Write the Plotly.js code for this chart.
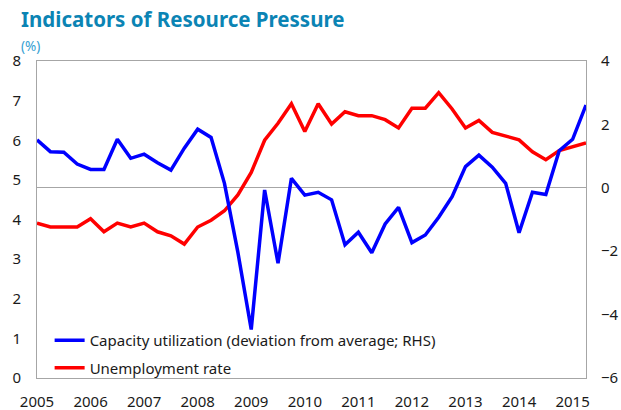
<!DOCTYPE html>
<html>
<head>
<meta charset="utf-8">
<script src="https://cdn.plot.ly/plotly-3.0.1.min.js"></script>
<style>html,body{margin:0;padding:0;background:#fff;}#chart{width:621px;height:410px;}</style>
</head>
<body>
<div id="chart"></div>
<script>
// Quarterly, 2005Q1 .. 2015Q2
const startYear = 2005;
const nQuarters = 42;
const tickYears = [2005, 2006, 2007, 2008, 2009, 2010, 2011, 2012, 2013, 2014, 2015];

// Capacity utilization (deviation from average; RHS)
const capacityUtil = [
  1.51, 1.14, 1.12, 0.75, 0.58, 0.58, 1.53, 0.93, 1.06, 0.79,
  0.56, 1.25, 1.85, 1.59, 0.14, -2.03, -4.47, -0.07, -2.38, 0.30,
  -0.23, -0.14, -0.38, -1.80, -1.40, -2.05, -1.14, -0.62, -1.73, -1.49,
  -0.93, -0.28, 0.67, 1.03, 0.65, 0.14, -1.42, -0.14, -0.21, 1.17,
  1.53, 2.61
];

// Unemployment rate (LHS, %)
const unemployment = [
  3.91, 3.81, 3.81, 3.81, 4.02, 3.69, 3.91, 3.81, 3.91, 3.69,
  3.59, 3.38, 3.81, 3.98, 4.22, 4.62, 5.19, 6.00, 6.43, 6.92,
  6.22, 6.92, 6.41, 6.72, 6.62, 6.62, 6.52, 6.31, 6.81, 6.81,
  7.20, 6.79, 6.31, 6.50, 6.20, 6.11, 6.01, 5.71, 5.51, 5.74,
  5.84, 5.93
];

const xs = [];
for (let i = 0; i < nQuarters; i++) xs.push(startYear + i * 0.25);

const font = "'Noto Sans', 'Open Sans', sans-serif";

const traces = [
  {
    x: xs, y: capacityUtil, yaxis: 'y2', type: 'scatter', mode: 'lines',
    name: 'Capacity utilization (deviation from average; RHS)',
    legendgroup: 'a',
    line: {color: '#0000ff', width: 3.5}
  },
  {
    x: xs, y: unemployment, yaxis: 'y', type: 'scatter', mode: 'lines',
    name: 'Unemployment rate',
    legendgroup: 'b',
    line: {color: '#ff0000', width: 3.5}
  }
];

const layout = {
  width: 621, height: 410,
  margin: {l: 37, r: 35, t: 61, b: 32},
  paper_bgcolor: '#fff', plot_bgcolor: '#fff',
  font: {family: font, size: 15, color: '#1a1a1a'},
  showlegend: true,
  legend: {
    x: 0.023, y: 0.17, xanchor: 'left', yanchor: 'top',
    bgcolor: 'rgba(0,0,0,0)', borderwidth: 0,
    font: {family: font, size: 15, color: '#1a1a1a'},
    tracegroupgap: 5, itemwidth: 30
  },
  xaxis: {
    range: [startYear, startYear + (nQuarters - 1) * 0.25],
    tickvals: tickYears, ticktext: tickYears.map(String),
    showgrid: false, zeroline: false,
    showline: true, linecolor: '#a6a6a6', linewidth: 1, mirror: true,
    ticks: '', ticklabelstandoff: 10,
    tickfont: {family: font, size: 15, color: '#1a1a1a'}
  },
  yaxis: {
    range: [0, 8], dtick: 1,
    showgrid: false, zeroline: false,
    showline: true, linecolor: '#a6a6a6', linewidth: 1, mirror: true,
    ticks: '', ticklabelstandoff: 12,
    tickfont: {family: font, size: 15, color: '#1a1a1a'}
  },
  yaxis2: {
    range: [-6, 4], dtick: 2, overlaying: 'y', side: 'right',
    showgrid: false, zeroline: true, zerolinecolor: '#a6a6a6', zerolinewidth: 1,
    showline: false, ticks: '', ticklabelstandoff: 14,
    tickfont: {family: font, size: 15, color: '#1a1a1a'}
  },
  annotations: [
    {
      text: '<b>Indicators of Resource Pressure</b>', xref: 'paper', yref: 'paper',
      x: -0.032, y: 1.0, xanchor: 'left', yanchor: 'bottom', yshift: 26,
      showarrow: false, font: {family: font, size: 20.5, color: '#0b84b4'}
    },
    {
      text: '(%)', xref: 'paper', yref: 'paper',
      x: -0.032, y: 1.0, xanchor: 'left', yanchor: 'bottom', yshift: 4,
      showarrow: false, font: {family: font, size: 13.5, color: '#35a0d2'}
    }
  ]
};

Plotly.newPlot('chart', traces, layout, {displayModeBar: false, staticPlot: true});
</script>
</body>
</html>
